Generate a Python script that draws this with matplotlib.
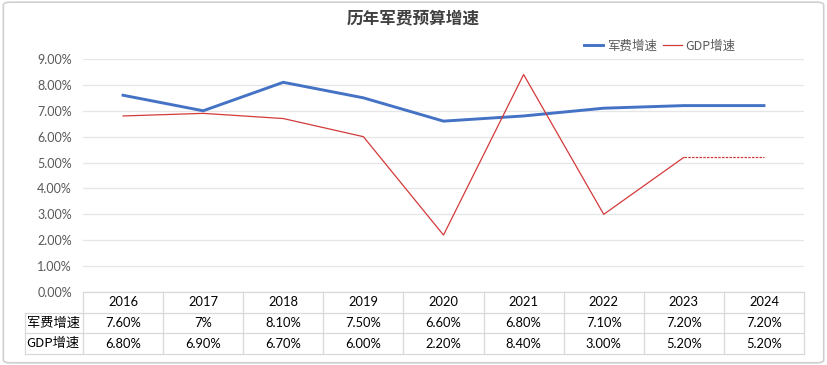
import matplotlib
matplotlib.use("Agg")
import matplotlib.pyplot as plt
import matplotlib.transforms as mtransforms
from matplotlib.patches import FancyBboxPatch
from matplotlib.lines import Line2D

plt.rcParams['font.family'] = ['Lato', 'Noto Sans CJK SC', 'DejaVu Sans']

years = ['2016', '2017', '2018', '2019', '2020', '2021', '2022', '2023', '2024']
military = [7.6, 7.0, 8.1, 7.5, 6.6, 6.8, 7.1, 7.2, 7.2]
gdp = [6.8, 6.9, 6.7, 6.0, 2.2, 8.4, 3.0, 5.2, 5.2]
military_labels = ['7.60%', '7%', '8.10%', '7.50%', '6.60%', '6.80%', '7.10%', '7.20%', '7.20%']
gdp_labels = ['6.80%', '6.90%', '6.70%', '6.00%', '2.20%', '8.40%', '3.00%', '5.20%', '5.20%']
series_names = ['军费增速', 'GDP增速']
title = '历年军费预算增速'
yticks = [0, 1, 2, 3, 4, 5, 6, 7, 8, 9]

blue = '#4472C4'
red = '#D33A3A'
grid_c = '#E6E6E6'
tab_c = '#D9D9D9'
txt_c = '#595959'

fig = plt.figure(figsize=(8.27, 3.65), dpi=100)
fig.patch.set_facecolor('white')
border = FancyBboxPatch((0.004, 0.006), 0.992, 0.988, boxstyle='round,pad=0,rounding_size=0.008',
                        transform=fig.transFigure, facecolor='none', edgecolor='#D0D0D0', lw=1.2)
fig.patches.append(border)

ax = fig.add_axes([83/827, (365-292)/365, (804-83)/827, (292-59)/365])
x = list(range(len(years)))
ax.plot(x, military, color=blue, lw=2.1, solid_joinstyle='miter', zorder=3)
ax.plot(x[:-1], gdp[:-1], color=red, lw=0.9, zorder=3)
ax.plot(x[-2:], gdp[-2:], color=red, lw=0.9, ls=(0, (2, 1)), zorder=3)

ax.set_xlim(-0.5, len(years) - 0.5)
ax.set_ylim(0, 9)
ax.set_yticks(yticks)
ax.set_yticklabels([f'{v:.2f}%' for v in yticks], fontsize=9, color=txt_c)
ax.set_xticks([])
ax.tick_params(axis='y', length=0, pad=8)
ax.grid(axis='y', color=grid_c, lw=0.9)
ax.set_axisbelow(True)
for s in ax.spines.values():
    s.set_visible(False)

# data table below the axes
trans = mtransforms.blended_transform_factory(ax.transData, ax.transAxes)
ph = 233.0
row_edges = [0, -21/ph, -41/ph, -62/ph]
left_lab = -0.5 - 58/80.1
right = len(years) - 0.5
lkw = dict(color=tab_c, lw=0.9, transform=trans, clip_on=False)
ax.plot([-0.5, right], [row_edges[0]] * 2, **lkw)
for ye in row_edges[1:]:
    ax.plot([left_lab, right], [ye] * 2, **lkw)
for i in range(len(years) + 1):
    xe = i - 0.5
    ax.plot([xe, xe], [row_edges[0], row_edges[-1]], **lkw)
ax.plot([left_lab, left_lab], [row_edges[1], row_edges[-1]], **lkw)

def mid(a, b):
    return (a + b) / 2

for i, yr in enumerate(years):
    ax.text(i, mid(row_edges[0], row_edges[1]), yr, transform=trans, ha='center', va='center',
            fontsize=9.3, color='black', clip_on=False)
    ax.text(i, mid(row_edges[1], row_edges[2]), military_labels[i], transform=trans, ha='center',
            va='center', fontsize=9.3, color='black', clip_on=False)
    ax.text(i, mid(row_edges[2], row_edges[3]), gdp_labels[i], transform=trans, ha='center',
            va='center', fontsize=9.3, color='black', clip_on=False)
for r, name in enumerate(series_names):
    ax.text(left_lab + 0.02, mid(row_edges[r + 1], row_edges[r + 2]), name, transform=trans,
            ha='left', va='center', fontsize=9.5, color='black', clip_on=False,
            family=['Noto Sans CJK SC', 'DejaVu Sans'])

fig.text(0.5, 1 - 18/365, title, ha='center', va='center', fontsize=12, fontweight='bold',
         color='#404040', family=['Noto Sans CJK SC', 'DejaVu Sans'])

handles = [Line2D([], [], color=blue, lw=2.1), Line2D([], [], color=red, lw=0.9)]
leg = fig.legend(handles, series_names, loc='center', bbox_to_anchor=(660/827, 1 - 46/365),
                 ncol=2, frameon=False, handlelength=1.5, handletextpad=0.3,
                 columnspacing=0.5, prop={'family': ['Noto Sans CJK SC', 'DejaVu Sans'], 'size': 9})
for t in leg.get_texts():
    t.set_color(txt_c)

fig.savefig('out.png', dpi=100, facecolor='white')
